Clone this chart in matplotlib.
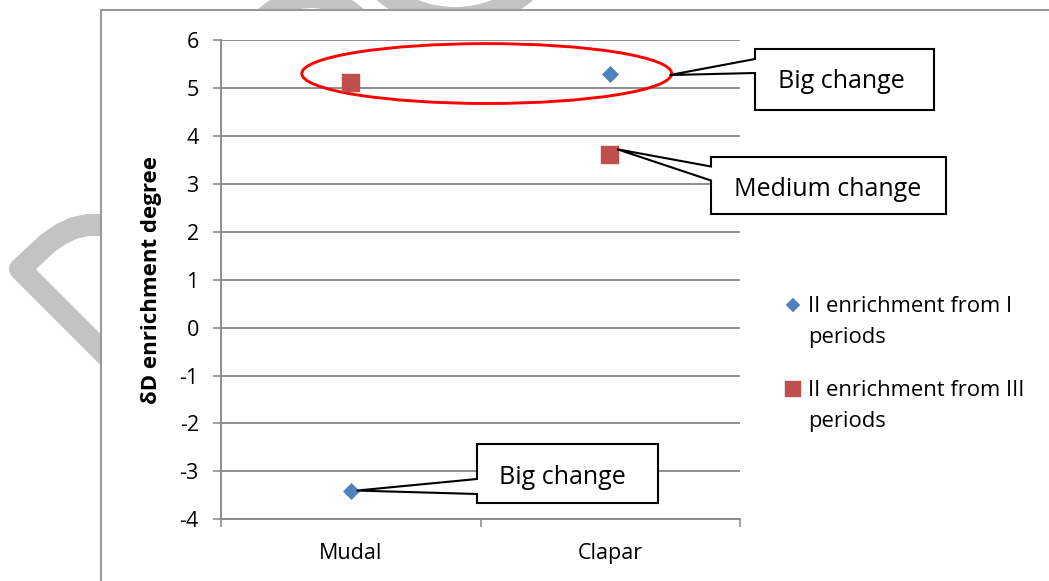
import matplotlib
matplotlib.use("Agg")
import matplotlib.pyplot as plt
from matplotlib.patches import Rectangle, Ellipse, Polygon, Circle
from matplotlib.lines import Line2D
from matplotlib.transforms import IdentityTransform

# ---- data -------------------------------------------------------------
categories = ["Mudal", "Clapar"]
series_labels = ["II enrichment from I\nperiods", "II enrichment from III\nperiods"]
enrich_from_I = [-3.4, 5.3]
enrich_from_III = [5.1, 3.6]
y_ticks = [-4, -3, -2, -1, 0, 1, 2, 3, 4, 5, 6]
y_tick_labels = ["-4", "-3", "-2", "-1", "0", "1", "2", "3", "4", "5", "6"]
y_label = "δD enrichment degree"
note_texts = ["Big change", "Medium change", "Big change"]

# ---- figure setup -----------------------------------------------------
W, H, DPI = 1049, 581, 100
plt.rcParams["font.family"] = ["Open Sans", "DejaVu Sans"]

BLUE = "#4F81BD"
RED = "#C0504D"
GRID = "#868686"
WATERMARK = "#C3C3C3"

fig = plt.figure(figsize=(W / DPI, H / DPI), dpi=DPI)
fig.patch.set_facecolor("white")
PIX = IdentityTransform()


def P(x, y):
    """image pixel (top-left origin) -> display coords"""
    return (x, H - y)


# faint background watermark strokes
wm_path = [P(108, 225), P(88, 225), P(74, 228), P(61, 234), P(48, 243),
           P(20, 269), P(112, 361)]
fig.add_artist(Line2D([p[0] for p in wm_path], [p[1] for p in wm_path],
                      transform=PIX, color=WATERMARK, lw=22 * 72 / DPI,
                      solid_joinstyle="round", solid_capstyle="butt", zorder=-3))
fig.add_artist(Circle(P(311, 64), 66, transform=PIX, fill=False,
                      ec=WATERMARK, lw=20 * 72 / DPI, zorder=-3))
fig.add_artist(Circle(P(455, -94), 111.75, transform=PIX, fill=False,
                      ec=WATERMARK, lw=21.5 * 72 / DPI, zorder=-3))

# chart frame
fig.add_artist(Rectangle(P(101, H + 10), W, H, transform=PIX,
                         fc="white", ec="#9A9A9A", lw=1.5, zorder=-2))

# ---- axes -------------------------------------------------------------
ax_l, ax_r, ax_t, ax_b = 221, 740, 40.3, 519.3
ax = fig.add_axes([ax_l / W, 1 - ax_b / H, (ax_r - ax_l) / W, (ax_b - ax_t) / H])
ax.set_facecolor("none")
x = list(range(len(categories)))
ax.set_xlim(-0.5, len(categories) - 0.5)
ax.set_ylim(y_ticks[0], y_ticks[-1])

ax.set_yticks(y_ticks)
ax.set_yticklabels(y_tick_labels)
ax.yaxis.grid(True, color=GRID, lw=1.3)
ax.set_axisbelow(True)

ax.set_xticks([i - 0.5 for i in range(len(categories) + 1)])
ax.set_xticklabels([])
ax.set_xticks(x, minor=True)
ax.set_xticklabels(categories, minor=True)

for side in ("top", "right"):
    ax.spines[side].set_visible(False)
for side in ("left", "bottom"):
    ax.spines[side].set_color(GRID)
    ax.spines[side].set_linewidth(1.3)

ax.tick_params(axis="y", length=6, width=1.1, color=GRID, pad=10,
               labelsize=15.5, labelcolor="black")
ax.tick_params(axis="x", which="major", length=6, width=1.1, color=GRID)
ax.tick_params(axis="x", which="minor", length=0, pad=17,
               labelsize=15.5, labelcolor="black")

ax.plot(x, enrich_from_I, linestyle="none", marker="D", ms=8.6,
        color=BLUE, mec=BLUE, mew=0.5, zorder=4, clip_on=False)
ax.plot(x, enrich_from_III, linestyle="none", marker="s", ms=12.8,
        color=RED, mec=RED, mew=0.3, zorder=4, clip_on=False)

fig.text(152 / W, 1 - (ax_t + ax_b) / 2 / H, y_label, rotation=90,
         ha="center", va="center", fontsize=16, fontweight="bold")

# highlight ring around the two top values
ring_cx, ring_cy, ring_w, ring_h = 0.524, 5.306, 1.425, 1.25
ax.add_patch(Ellipse((ring_cx, ring_cy), ring_w, ring_h, fill=False,
                     ec="#FF0000", lw=2.1, zorder=3, clip_on=False))

# ---- legend -----------------------------------------------------------
legend_items = [("D", 7.0, BLUE, 312.0), ("s", 12.0, RED, 396.0)]
for (mk, ms, col, base), label in zip(legend_items, series_labels):
    first, second = label.split("\n")
    fig.add_artist(Line2D([793], [H - (base - 6.8)], transform=PIX,
                          linestyle="none", marker=mk, ms=ms, color=col,
                          mec=col, mew=0.3))
    fig.text(808 / W, 1 - base / H, first, ha="left", va="baseline",
             fontsize=15.8)
    fig.text(808 / W, 1 - (base + 31.5) / H, second, ha="left",
             va="baseline", fontsize=15.8)


# ---- callouts ---------------------------------------------------------
def callout(text, tip_data, tip_off, box, notch, text_xy):
    """box = (left, top, right, bottom) in image pixels; notch = (y1, y2)"""
    tx, ty = ax.transData.transform(tip_data)
    tx += tip_off[0]
    ty -= tip_off[1]
    L, T, R, B = box
    pts = [P(L, T), P(R, T), P(R, B), P(L, B), P(L, notch[1]),
           (tx, ty), P(L, notch[0])]
    fig.add_artist(Polygon(pts, closed=True, transform=PIX, fc="white",
                           ec="black", lw=1.5, joinstyle="miter", zorder=6))
    fig.text(text_xy[0] / W, 1 - text_xy[1] / H, text, ha="center",
             va="baseline", fontsize=18, zorder=7)


callout(note_texts[0], (ring_cx + ring_w / 2, ring_cy), (-2, 1.5),
        (755, 49, 934, 110), (59, 73), (841, 88.5))
callout(note_texts[1], (x[1], enrich_from_III[1]), (7, -6),
        (711, 157, 946, 214), (166.5, 180.5), (828, 196.5))
callout(note_texts[2], (x[0], enrich_from_I[0]), (6, 0),
        (477, 444, 658, 503), (479, 494), (562, 483.5))

fig.savefig("out.png", dpi=DPI, facecolor="white")
